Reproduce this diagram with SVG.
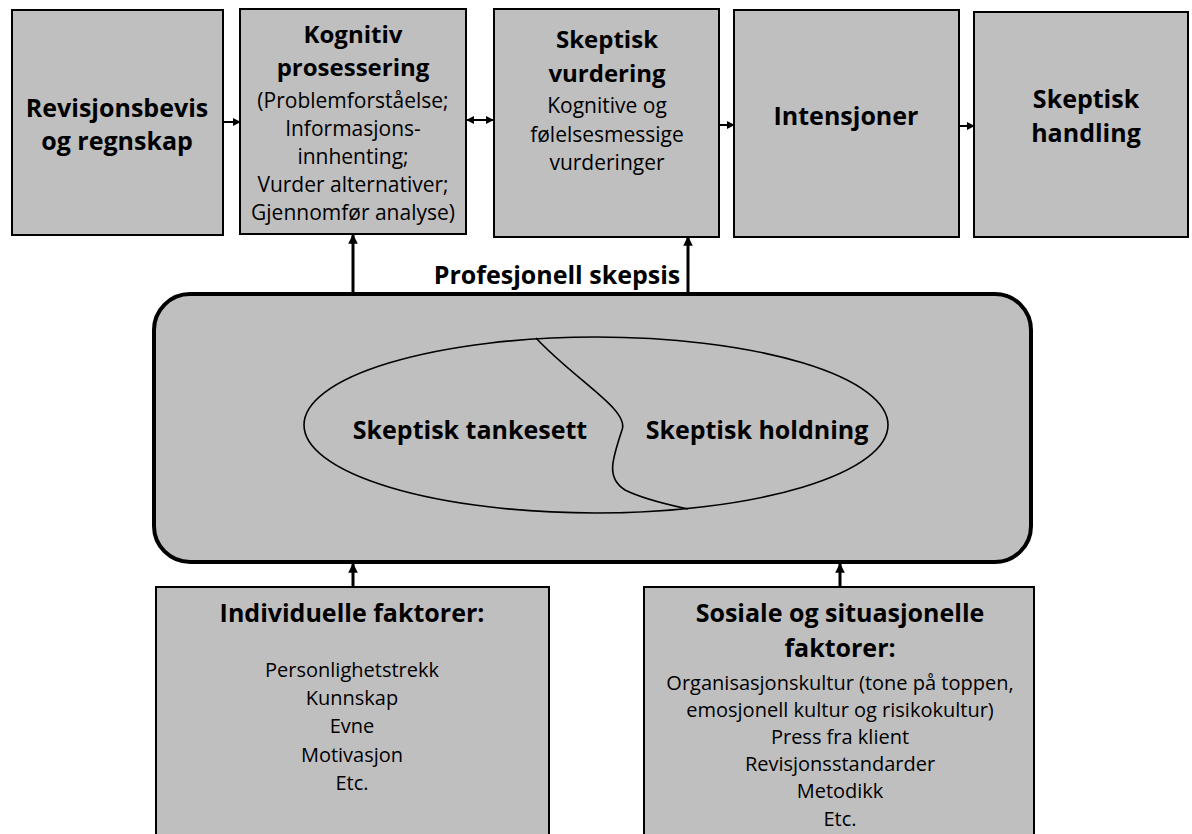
<svg xmlns="http://www.w3.org/2000/svg" width="1192" height="834" viewBox="0 0 1192 834">
<defs>
<style>
.box{fill:#bfbfbf;stroke:#000;stroke-width:2}
.b{font-family:"Open Sans",Lato,sans-serif;font-weight:bold;fill:#000;text-anchor:middle;font-size:25px}
.t{font-size:24px}
.r{font-family:"Open Sans",Lato,sans-serif;fill:#000;text-anchor:middle;font-size:20px}
.r2{font-size:21px}
.ln{stroke:#000;fill:none}
</style>
<marker id="ah" viewBox="0 0 10 10" refX="9" refY="5" markerWidth="4" markerHeight="4" orient="auto-start-reverse" markerUnits="strokeWidth">
<path d="M0,0 L10,5 L0,10 z" fill="#000"/>
</marker>
<marker id="av" viewBox="0 0 10 10" refX="9" refY="5" markerWidth="3.2" markerHeight="3.2" orient="auto" markerUnits="strokeWidth">
<path d="M0,0 L10,5 L0,10 z" fill="#000"/>
</marker>
</defs>
<rect width="1192" height="834" fill="#fff"/>

<g id="connectors">
<line class="ln" x1="223" y1="122" x2="240" y2="122" stroke-width="2" marker-end="url(#ah)"/>
<line class="ln" x1="467" y1="120" x2="493" y2="120" stroke-width="2" marker-start="url(#ah)" marker-end="url(#ah)"/>
<line class="ln" x1="719" y1="125" x2="734" y2="125" stroke-width="2" marker-end="url(#ah)"/>
<line class="ln" x1="959" y1="126" x2="974" y2="126" stroke-width="2" marker-end="url(#ah)"/>
<line class="ln" x1="353" y1="293" x2="353" y2="235" stroke-width="3" marker-end="url(#av)"/>
<line class="ln" x1="688" y1="293" x2="688" y2="237" stroke-width="3" marker-end="url(#av)"/>
<line class="ln" x1="353" y1="587" x2="353" y2="564" stroke-width="3" marker-end="url(#av)"/>
<line class="ln" x1="840" y1="587" x2="840" y2="564" stroke-width="3" marker-end="url(#av)"/>
</g>

<g id="revisjonsbevis">
<rect class="box" x="12" y="10" width="211" height="225"/>
<text class="b" x="117" y="117">Revisjonsbevis</text>
<text class="b" x="117" y="150">og regnskap</text>
</g>

<g id="kognitiv">
<rect class="box" x="240" y="9" width="226" height="225"/>
<text class="b t" x="353" y="43">Kognitiv</text>
<text class="b t" x="353" y="76">prosessering</text>
<text class="r r2" x="353" y="108">(Problemforståelse;</text>
<text class="r r2" x="353" y="136">Informasjons-</text>
<text class="r r2" x="353" y="164">innhenting;</text>
<text class="r r2" x="353" y="192">Vurder alternativer;</text>
<text class="r r2" x="353" y="220">Gjennomfør analyse)</text>
</g>

<g id="vurdering">
<rect class="box" x="494" y="9" width="225" height="228"/>
<text class="b t" x="607" y="48">Skeptisk</text>
<text class="b t" x="607" y="82">vurdering</text>
<text class="r r2" x="607" y="113">Kognitive og</text>
<text class="r r2" x="607" y="142">følelsesmessige</text>
<text class="r r2" x="607" y="170">vurderinger</text>
</g>

<g id="intensjoner">
<rect class="box" x="734" y="10" width="225" height="227"/>
<text class="b" x="846" y="125">Intensjoner</text>
</g>

<g id="handling">
<rect class="box" x="974" y="12" width="214" height="225"/>
<text class="b" x="1086" y="108">Skeptisk</text>
<text class="b" x="1086" y="142">handling</text>
</g>

<g id="profesjonell">
<text class="b" x="557" y="284">Profesjonell skepsis</text>
<rect x="154" y="294" width="877" height="268" rx="36" ry="36" fill="#bfbfbf" stroke="#000" stroke-width="4"/>
<ellipse cx="596" cy="425" rx="292" ry="88" fill="#bfbfbf" stroke="#000" stroke-width="1.6"/>
<path d="M536,338 C575,380 630,410 622,430 C612,460 606,478 625,490 C645,500 670,505 688,509" fill="none" stroke="#000" stroke-width="1.6"/>
<text class="b" x="470" y="439">Skeptisk tankesett</text>
<text class="b" x="757" y="439">Skeptisk holdning</text>
</g>

<g id="individuelle">
<rect class="box" x="156" y="587" width="393" height="260"/>
<text class="b" x="352" y="622">Individuelle faktorer:</text>
<text class="r" x="352" y="677">Personlighetstrekk</text>
<text class="r" x="352" y="705">Kunnskap</text>
<text class="r" x="352" y="733">Evne</text>
<text class="r" x="352" y="762">Motivasjon</text>
<text class="r" x="352" y="790">Etc.</text>
</g>

<g id="sosiale">
<rect class="box" x="644" y="587" width="390" height="260"/>
<text class="b" x="840" y="622">Sosiale og situasjonelle</text>
<text class="b" x="840" y="657">faktorer:</text>
<text class="r" x="840" y="690">Organisasjonskultur (tone på toppen,</text>
<text class="r" x="840" y="717">emosjonell kultur og risikokultur)</text>
<text class="r" x="840" y="744">Press fra klient</text>
<text class="r" x="840" y="771">Revisjonsstandarder</text>
<text class="r" x="840" y="798">Metodikk</text>
<text class="r" x="840" y="826">Etc.</text>
</g>
</svg>
